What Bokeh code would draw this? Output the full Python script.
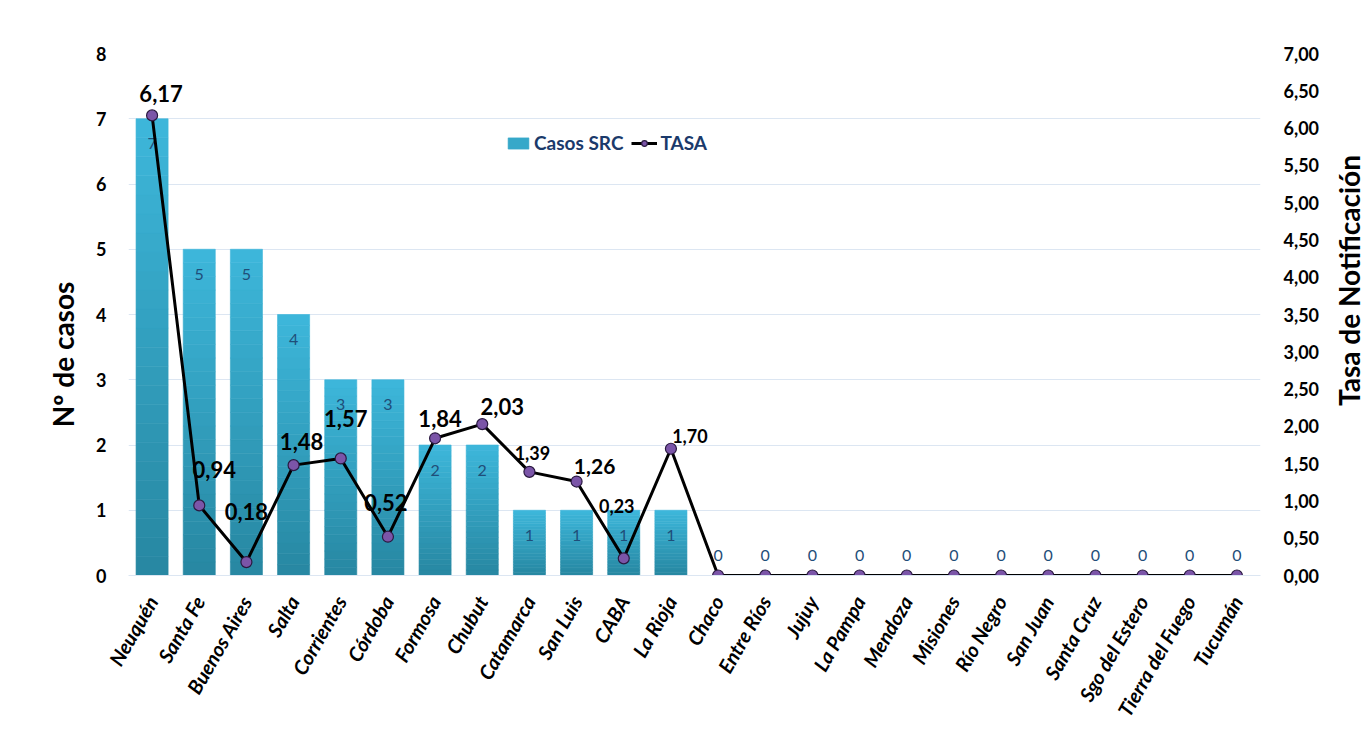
import math
from bokeh.plotting import figure
from bokeh.layouts import row
from bokeh.models import (Range1d, LinearAxis, CustomJSTickFormatter, Legend,
                          LegendItem, FixedTicker, ColumnDataSource)
from bokeh.core.properties import value
from bokeh.embed import file_html
from bokeh.resources import INLINE

# ---------------- data ----------------
provincias = ["Neuquén", "Santa Fe", "Buenos Aires", "Salta", "Corrientes", "Córdoba",
              "Formosa", "Chubut", "Catamarca", "San Luis", "CABA", "La Rioja",
              "Chaco", "Entre Ríos", "Jujuy", "La Pampa", "Mendoza", "Misiones",
              "Río Negro", "San Juan", "Santa Cruz", "Sgo del Estero",
              "Tierra del Fuego", "Tucumán"]
casos = [7, 5, 5, 4, 3, 3, 2, 2, 1, 1, 1, 1, 0, 0, 0, 0, 0, 0, 0, 0, 0, 0, 0, 0]
tasa = [6.17, 0.94, 0.18, 1.48, 1.57, 0.52, 1.84, 2.03, 1.39, 1.26, 0.23, 1.70,
        0, 0, 0, 0, 0, 0, 0, 0, 0, 0, 0, 0]
left_ticks = [0, 1, 2, 3, 4, 5, 6, 7, 8]
right_ticks = [0, 0.5, 1, 1.5, 2, 2.5, 3, 3.5, 4, 4.5, 5, 5.5, 6, 6.5, 7]
left_title = "Nº de casos"
right_title = "Tasa de Notificación"

# ---------------- styles ----------------
FONT = "Lato"
TOP_RGB = (61, 182, 218)
BOT_RGB = (40, 136, 163)
N_SLICES = 24
H = 740
TOP_B, BOT_B = 53, 165   # frame borders (px)
LW, RW = 75, 38          # side panel widths (axis titles)
# per-label offsets (px) for the rate labels (style only)
tasa_dx = [9, 15, 0, 8, 5, -2, 5, 20, 3, 18, -7, 19]
tasa_dy = [-22, -36, -51, -24, -40, -34, -20, -18, -19, -15, -52, -13]
tasa_fs = ["22px", "22px", "22px", "22px", "22px", "22px", "22px", "22px",
           "18px", "21px", "18px", "18px"]

p = figure(x_range=provincias, y_range=Range1d(0, 8), width=1330 - LW, height=H,
           output_backend="svg", toolbar_location=None,
           min_border_left=128 - LW, min_border_right=70, min_border_top=TOP_B,
           min_border_bottom=BOT_B)
p.extra_y_ranges = {"tasa": Range1d(0, 7)}
p.outline_line_color = None
p.background_fill_color = "white"
p.border_fill_color = "white"

# gradient bars built from slices of each bar
xs, bots, tops, cols = [], [], [], []
for name, v in zip(provincias, casos):
    if v <= 0:
        continue
    for k in range(N_SLICES):
        f = k / (N_SLICES - 1)
        r = int(BOT_RGB[0] + (TOP_RGB[0] - BOT_RGB[0]) * f)
        g = int(BOT_RGB[1] + (TOP_RGB[1] - BOT_RGB[1]) * f)
        b = int(BOT_RGB[2] + (TOP_RGB[2] - BOT_RGB[2]) * f)
        xs.append(name)
        bots.append(v * k / N_SLICES)
        tops.append(v * (k + 1) / N_SLICES)
        cols.append("#%02x%02x%02x" % (r, g, b))
bars = p.vbar(x=xs, bottom=bots, top=tops, width=0.68, fill_color=cols,
              line_color=cols, line_width=0.6)

# bar labels
bar_src = ColumnDataSource(dict(x=provincias, y=casos, t=[str(c) for c in casos],
                                off=[25 if c > 0 else -20 for c in casos]))
p.text(x="x", y="y", text="t", y_offset="off", source=bar_src,
       text_align="center", text_baseline="middle", text_color="#1F4E79",
       text_font=value(FONT), text_font_size="16px")

# rate line
line = p.line(x=provincias, y=tasa, y_range_name="tasa", line_color="black",
              line_width=3)
pts = p.scatter(x=provincias, y=tasa, y_range_name="tasa", size=11,
                fill_color="#7B55A8", line_color="#2A1940", line_width=1.2)

# rate labels (non-zero only)
nz = [i for i, t in enumerate(tasa) if t > 0]
lab_src = ColumnDataSource(dict(
    x=[provincias[i] for i in nz],
    y=[tasa[i] for i in nz],
    t=[("%.2f" % tasa[i]).replace(".", ",") for i in nz],
    dx=tasa_dx, dy=tasa_dy, fs=tasa_fs))
p.text(x="x", y="y", text="t", x_offset="dx", y_offset="dy", source=lab_src,
       y_range_name="tasa", text_align="center", text_baseline="middle",
       text_color="black", text_font=value(FONT), text_font_style="bold",
       text_font_size="fs")

# axes
grid_col = "#DCE6F2"
p.ygrid.grid_line_color = grid_col
p.ygrid.ticker = FixedTicker(ticks=left_ticks)
p.xgrid.grid_line_color = None

ya = p.yaxis[0]
ya.ticker = FixedTicker(ticks=left_ticks)
ya.axis_line_color = None
ya.major_tick_line_color = None
ya.minor_tick_line_color = None
ya.major_label_text_font = FONT
ya.major_label_text_font_style = "bold"
ya.major_label_text_font_size = "18px"
ya.major_label_text_color = "black"
ya.major_label_standoff = 16

ra = LinearAxis(y_range_name="tasa", ticker=FixedTicker(ticks=right_ticks),
                formatter=CustomJSTickFormatter(
                    code="return tick.toFixed(2).replace('.', ',');"))
ra.axis_line_color = None
ra.major_tick_line_color = None
ra.minor_tick_line_color = None
ra.major_label_text_font = FONT
ra.major_label_text_font_style = "bold"
ra.major_label_text_font_size = "18px"
ra.major_label_text_color = "black"
ra.major_label_standoff = 17
p.add_layout(ra, "right")

xa = p.xaxis[0]
xa.axis_line_color = grid_col
xa.major_tick_line_color = None
xa.minor_tick_line_color = None
xa.major_label_orientation = 1.05
xa.major_label_text_font = FONT
xa.major_label_text_font_style = "bold italic"
xa.major_label_text_font_size = "20px"
xa.major_label_text_color = "black"
xa.major_label_standoff = 16

legend = Legend(items=[LegendItem(label="Casos SRC", renderers=[bars], index=16),
                       LegendItem(label="TASA", renderers=[line, pts])],
                orientation="horizontal", location=(377, 421),
                background_fill_alpha=0, border_line_color=None,
                padding=0, margin=0, spacing=8, label_standoff=3,
                glyph_width=26, glyph_height=14,
                label_text_font=FONT, label_text_font_style="bold",
                label_text_font_size="19px", label_text_color="#1B3A6B")
p.add_layout(legend, "center")


def title_panel(width, text, x, y):
    """Narrow figure carrying a vertical axis title (reads bottom-to-top).
    Its frame matches the main frame, and its y range counts pixels from the top."""
    f = figure(width=width, height=H, x_range=Range1d(0, width),
               y_range=Range1d(H - (H - BOT_B), H - TOP_B), output_backend="svg",
               toolbar_location=None, min_border_left=0, min_border_right=0,
               min_border_top=TOP_B, min_border_bottom=BOT_B)
    f.axis.visible = False
    f.grid.visible = False
    f.outline_line_color = None
    f.border_fill_color = "white"
    f.text(x=[x], y=[H - y], text=[text], angle=math.pi / 2,
           text_align="center", text_baseline="middle", text_color="black",
           text_font=value(FONT), text_font_style="bold",
           text_font_size="28px")
    return f


p_left = title_panel(LW, left_title, 62, 354)
p_right = title_panel(RW, right_title, 18, 280)

layout = row(p_left, p, p_right, spacing=0)
open("out.html", "w").write(file_html(layout, INLINE))
